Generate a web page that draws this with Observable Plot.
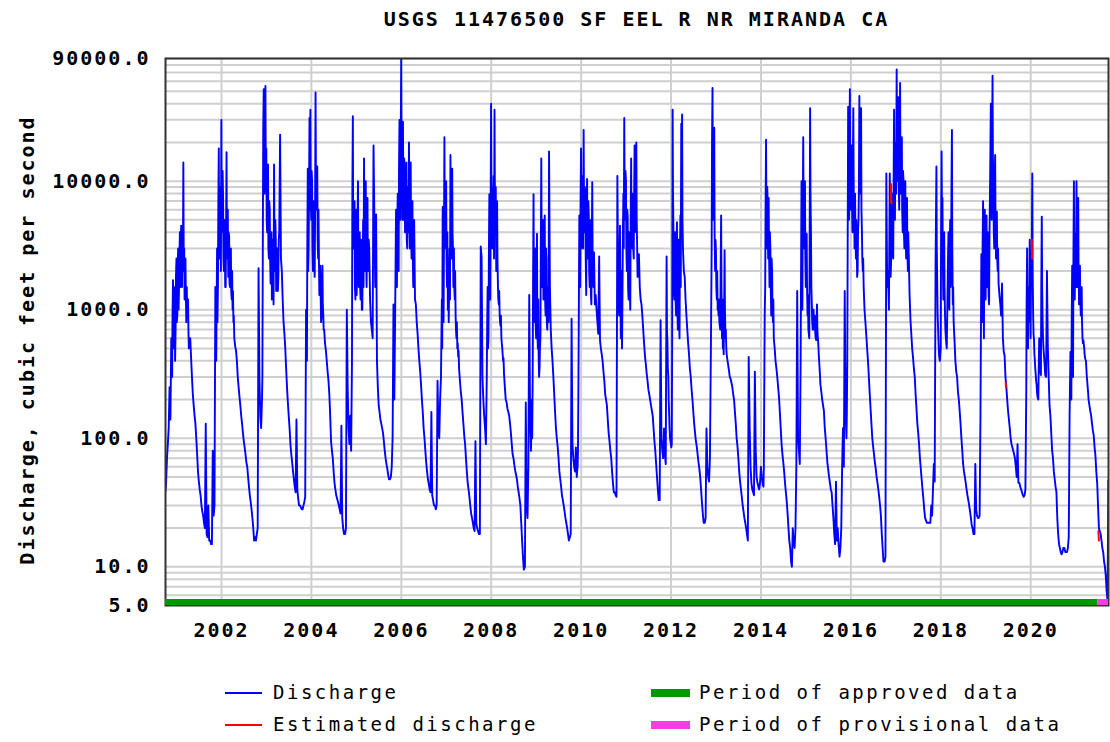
<!DOCTYPE html>
<html>
<head>
<meta charset="utf-8">
<script src="https://cdn.jsdelivr.net/npm/d3@7"></script>
<script src="https://cdn.jsdelivr.net/npm/@observablehq/plot@0.6"></script>
<style>
  body { margin: 0; background: #fff; }
  #wrap { width: 1110px; height: 742px; position: relative; overflow: hidden; font-family: "DejaVu Sans Mono", monospace; color: #000; }
  #title { position: relative; height: 40px; }
  #title span { position: absolute; left: 165px; width: 943px; top: 8px; text-align: center; font-weight: bold; font-size: 20px; line-height: 22px; letter-spacing: 2px; }
  #chart svg { display: block; }
  #chart svg text { letter-spacing: 2px; }
  #legend { position: relative; height: 87px; }
  #legend .sw { position: absolute; }
  #legend .lab { position: absolute; font-size: 19px; line-height: 20px; letter-spacing: 2.5px; white-space: pre; }
</style>
</head>
<body>
<div id="wrap">
  <div id="title"><span id="titleText"></span></div>
  <div id="chart"></div>
  <div id="legend"></div>
</div>
<script>
// ---------------- DATA ----------------
const chartTitle = "USGS 11476500 SF EEL R NR MIRANDA CA";
const yTitle = "Discharge, cubic feet per second";
const yTickValues = [5, 10, 100, 1000, 10000, 90000];
const xTickYears = [2002, 2004, 2006, 2008, 2010, 2012, 2014, 2016, 2018, 2020];
const periodStart = "2000-10-03";
const periodEnd = "2021-09-24";
const provisionalStart = "2021-06-28";
const legendItems = ["Discharge", "Estimated discharge", "Period of approved data", "Period of provisional data"];

// Weekly readings of daily discharge (cfs), each water year starting Oct 1
const wy2001 = [38,45,70,90,120, 250,140,600,300, 1700,500,1200,700,2500, 900,3000,1500,4000, 2200,3200,4000,14000, 3000,1600,1200,1500, 900,650,540,600,420, 300,220,180,150, 130,100,75,55, 46,40,36,30,27, 25,22,20,130, 18,17,30,16];
const wy2002 = [16,15,15,80,25, 30,1500,400,3000, 1500,18000,3000,6000,30000, 5000,7400,2000,5000, 1500,16800,2500,1800, 3700,1500,3000,1200, 1000,800,600,520,480, 400,300,250,210, 180,150,130,110, 95,85,75,65,60, 50,42,36,32, 28,24,20,16];
const wy2003 = [17,16,18,20,2100, 300,150,120,200, 4000,52000,8000,55000,18000, 4000,13500,2500,6000, 1600,4000,1500,3000, 13500,2000,3500,1500, 3000,1800,4000,23000,2500, 2000,1200,800,650, 500,350,250,190, 150,120,90,75,65, 55,48,42,38, 140,40,34,30];
const wy2004 = [30,29,28,28,30, 32,35,1000,400, 12500,3000,31000,36000,5000, 10000,2000,7000,1800, 49000,6000,13000,2500, 2200,1500,1200,900, 2200,900,700,550,480, 400,330,280,220, 150,95,80,70, 55,45,40,36,34, 32,30,28,26, 125,24,20,18];
const wy2005 = [18,20,1000,250,120, 90,150,80,400, 32000,3000,7000,1200,6000, 2000,10000,1500,4000, 1200,3000,1000,5000, 15000,2000,10000,1500, 7400,2000,3000,1200,800, 700,600,19000,5000, 1500,5500,400,250, 180,160,140,130,120, 110,95,80,70, 63,58,52,48];
const wy2006 = [48,50,60,100,1100, 200,1000,6000,1500, 8000,2000,30000,5000,90000, 10000,29000,5000,12000, 4000,14000,3000,8000, 20000,3000,14000,2500, 7000,1500,5000,1200,1100, 800,650,500,400, 330,260,200,160, 120,100,80,65,55, 48,44,40,38, 160,36,33,30];
const wy2007 = [30,28,30,280,120, 100,200,300,1200, 6300,800,22000,3000,10000, 1500,1000,800,3000, 16000,2500,12500,2800, 3000,1200,900,600, 500,430,350,280,230, 200,160,130,105, 90,70,55,45, 40,35,30,26,24, 22,20,19,95, 22,20,19,18];
const wy2008 = [18,3100,2600,300,200, 150,120,90,300, 1500,600,7900,1200,40000, 8000,3000,11000,36000, 5000,2000,7000,1500, 1100,900,750,600, 500,400,320,250,200, 190,170,160,150, 130,110,90,75, 70,62,56,52,48, 42,38,34,30, 22,16,12,9.5];
const wy2009 = [10,190,30,24,60, 1300,150,80,200, 300,7900,800,3000,600, 3900,500,400,350, 600,15000,1500,5000, 2000,5400,900,2500, 700,1200,17000,1500,700, 500,400,300,220, 160,120,100,86, 70,55,48,42,36, 33,30,27,24, 22,20,18,16];
const wy2010 = [17,18,850,90,70, 60,55,85,50, 60,300,5400,1500,18000, 3000,11000,25000,4000, 8000,1300,10400,2500, 5400,1500,4000,1100, 9800,2000,2800,1100,1300, 1000,800,650,2600, 580,500,450,400, 330,280,220,200,180, 140,110,95,80, 70,55,45,38];
const wy2011 = [38,36,35,11000,1500, 900,4500,600,2000, 1500,8000,31000,5000,10000, 2000,5400,1200,3000, 1000,15000,3000,8000, 2500,19000,6000,20000, 3000,2000,2700,1500,1200, 1100,900,700,550, 440,380,320,280, 240,220,200,180,165, 150,120,95,80, 63,50,40,33];
const wy2012 = [33,830,100,80,70, 119,75,63,2600, 550,300,150,100,90, 90,36000,3900,1200, 4000,900,4800,700, 3500,600,5400,28000, 33000,3000,2000,1800,1200, 900,700,550,450, 350,300,240,200, 160,130,110,95,86, 75,65,58,50, 40,32,26,22];
const wy2013 = [22,24,119,60,50, 46,70,400,2900, 53000,5000,26000,2000,2900, 1200,1000,900,800, 700,5400,600,500, 450,2900,600,500, 420,380,340,300,290, 270,250,220,200, 160,130,100,86, 70,55,46,40,35, 30,27,24,22, 20,18,16,430];
const wy2014 = [120,60,45,40,38, 36,330,80,50, 45,42,40,45,60, 50,45,42,300, 1500,21000,3000,6000, 7400,1500,3000,900, 2000,800,600,500,400, 350,300,250,210, 160,120,90,75, 65,55,45,38,32, 26,20,16,14, 11,10,20,15];
const wy2015 = [14,20,60,1400,100, 80,63,420,10000, 1000,22000,3000,10000,1500, 3900,900,700,600, 37000,3900,1100,700, 1000,800,650,580, 1100,600,450,350,260, 230,200,180,163, 120,100,80,65, 57,50,45,40,38, 30,24,18,15, 46,16,20,15];
const wy2016 = [12,14,20,60,120, 60,1400,160,100, 400,38000,5000,52000,6000, 19000,4000,37000,5000, 8000,2500,3000,2000, 5000,46000,8000,37000, 4000,2000,1500,1000,800, 640,500,400,300, 224,170,130,100, 86,75,65,58,50, 45,40,35,30, 25,18,14,11];
const wy2017 = [11,12,11500,1500,2000, 1000,11500,1800,3000, 8000,2500,36000,5000,20000, 74000,10000,45000,6000, 58000,8000,22000,4000, 10000,3000,10000,2500, 7400,2000,2800,1300,840, 650,500,424,350, 300,220,170,130, 110,90,70,58,48, 40,34,28,24, 23,22,22,22];
const wy2018 = [22,22,30,25,40, 63,46,2200,13000, 1500,700,450,400,500, 17000,7400,1200,4000, 900,600,500,1500, 4000,1000,5000,2000, 25000,1100,800,580,400, 330,300,230,200, 163,130,100,80, 63,55,50,45,40, 36,33,30,27, 24,21,20,18];
const wy2019 = [18,63,28,25,24, 24,25,155,2700, 800,7000,600,6000,1200, 5400,1500,3000,1100, 8000,40000,5000,66000, 10000,3000,16000,2500, 5800,2000,1600,1300,1100, 900,1600,600,470, 440,300,250,200, 163,140,120,100,90, 85,80,75,70, 60,50,90,45];
const wy2020 = [45,42,40,38,36, 35,36,40,230, 3000,500,1500,3500,600, 2500,11500,900,580, 400,310,260,210, 200,600,400,310, 5300,800,500,400,310, 300,2000,520,300, 180,150,110,80, 70,55,48,42,38, 24,18,15,14, 13,12.5,13,14];
const wy2021 = [14,13,13,13,14, 17,150,470,200, 2200,300,10000,1200,3900, 10000,1500,7400,1100, 2200,900,1500,600, 580,500,420,400, 300,250,200,180,163, 150,130,115,105, 85,73,55,45, 30,20,19,18,16, 14,13,11,10, 8.5,6.5,5.5,47];

// Mid-week readings during the wet season (between weeks 8..27 of each water year)
const mid2001 = [900,600,1500,400,1800,800,2200,1000,2500,1500,4500,1500,2000,2500,1200,2500,800,900,1200,500];
const mid2002 = [800,6000,2500,9000,2000,4000,12000,2500,4500,1500,4000,3000,6000,4000,1600,2800,1400,2000,1400,900];
const mid2003 = [300,25000,10000,30000,9000,5000,9000,3000,7000,2500,3500,1200,3500,1100,4000,5000,1400,3000,1400,3500];
const mid2004 = [3000,2000,8000,6000,8000,12000,3000,6000,2500,5000,12000,9000,3500,6000,1300,2200,800,1400,1100,700];
const mid2005 = [8000,4000,6000,1500,4000,1300,5000,2000,3500,1500,3500,1000,2500,1500,3000,6000,2500,4000,2000,3500];
const mid2006 = [5000,3000,12000,6000,20000,15000,5000,8000,15000,4000,9000,3500,9000,4000,5000,9000,4000,6000,2500,4000];
const mid2007 = [500,1500,3000,5000,7000,2500,4000,2000,1500,1200,5000,6000,4000,1500,1500,2000,700,800,550,480];
const mid2008 = [700,500,2500,1500,5000,9000,3000,7000,2500,8000,9000,6000,2500,1200,1400,800,900,550,450,420];
const mid2009 = [100,1500,1500,2500,800,1500,700,1200,300,500,3000,3000,3500,1200,3500,1200,3000,800,1500,800];
const mid2010 = [55,80,1000,2000,7000,4000,9000,3000,6000,9000,2500,5000,3000,7000,2000,5000,1300,3000,2500,1500];
const mid2011 = [500,4000,3000,9000,12000,3000,6000,1500,4000,1500,4500,4000,6000,3000,7000,4000,9000,5000,1800,2700];
const mid2012 = [700,350,200,120,95,85,500,8000,1500,3000,1200,2500,1200,2500,900,2500,1500,5000,5000,2500];
const mid2013 = [20000,8000,15000,4000,3500,1500,2000,1100,1200,750,2000,1500,1200,550,900,1000,700,450,400,360];
const mid2014 = [48,44,41,42,50,55,48,43,60,900,6000,5000,9000,2500,3000,4000,1500,2500,1000,1200];
const mid2015 = [2000,5000,6000,7000,2500,2500,1500,1300,650,3000,8000,1500,800,1000,700,900,600,800,700,550];
const mid2016 = [150,3000,9000,15000,10000,8000,7000,12000,9000,3000,4000,5000,1800,4000,8000,10000,15000,6000,2500,2500];
const mid2017 = [6000,3000,9000,10000,15000,8000,20000,20000,9000,15000,12000,20000,6000,12000,4000,8000,4000,6000,3000,4000];
const mid2018 = [3000,900,550,420,450,4000,6000,2500,3000,1500,700,550,800,2500,1800,3000,1500,8000,3000,1500];
const mid2019 = [1200,3000,2000,3500,2000,3000,2000,4000,1300,3500,15000,10000,20000,15000,4000,8000,5000,4000,2500,3000];
const mid2020 = [1200,900,1200,800,1500,1500,3000,2000,650,450,350,280,230,205,350,450,330,1500,1500,600];
const mid2021 = [800,600,2500,2500,2500,1500,3000,4000,2000,1500,1200,1300,800,550,540,450,410,350,280,230];

// Estimated-discharge pieces (dates, values)
const estDates = [["2016-11-22","2016-11-23","2016-11-29"], ["2019-06-12","2019-06-15"], ["2020-01-10","2020-01-12"], ["2021-07-04","2021-07-08"]];
const estValues = [[9500,6800,6800], [270,250], [3500,2500], [19,16]];

// ---------------- BUILD ----------------
const waterYears = [
  [2001,wy2001,mid2001],[2002,wy2002,mid2002],[2003,wy2003,mid2003],[2004,wy2004,mid2004],[2005,wy2005,mid2005],
  [2006,wy2006,mid2006],[2007,wy2007,mid2007],[2008,wy2008,mid2008],[2009,wy2009,mid2009],[2010,wy2010,mid2010],
  [2011,wy2011,mid2011],[2012,wy2012,mid2012],[2013,wy2013,mid2013],[2014,wy2014,mid2014],[2015,wy2015,mid2015],
  [2016,wy2016,mid2016],[2017,wy2017,mid2017],[2018,wy2018,mid2018],[2019,wy2019,mid2019],[2020,wy2020,mid2020],
  [2021,wy2021,mid2021]];
const series = [];
for (const [wy, vals, mids] of waterYears) {
  vals.forEach((v, i) => series.push({date: new Date(Date.UTC(wy - 1, 9, 1 + 7 * i)), value: v}));
  mids.forEach((v, j) => series.push({date: new Date(Date.UTC(wy - 1, 9, 1 + 7 * (8 + j) + 3)), value: v}));
}
series.sort((a, b) => a.date - b.date);
const estimated = [];
estDates.forEach((ds, k) => ds.forEach((d, i) => estimated.push({seg: k, date: new Date(d + "T00:00:00Z"), value: estValues[k][i]})));

const d0 = new Date(periodStart + "T00:00:00Z");
const d1 = new Date(periodEnd + "T00:00:00Z");
const dp = new Date(provisionalStart + "T00:00:00Z");
const yearTicks = xTickYears.map(y => new Date(Date.UTC(y, 0, 1)));
const gridValues = [];
for (let e = 0; e <= 4; e++) for (let m = 1; m <= 9; m++) { const v = m * 10 ** e; if (v > 5 && v <= 90000) gridValues.push(v); }
const periods = [{x1: d0, x2: dp, y: 5, kind: "approved"}, {x1: dp, x2: d1, y: 5, kind: "provisional"}];

document.getElementById("titleText").textContent = chartTitle;

const chart = Plot.plot({
  width: 1110, height: 615,
  marginTop: 18, marginBottom: 50, marginLeft: 165, marginRight: 2,
  style: {fontFamily: '"DejaVu Sans Mono", monospace', fontSize: "20px", fontWeight: "bold", color: "#000", background: "#fff", overflow: "visible"},
  x: {type: "utc", domain: [d0, d1]},
  y: {type: "log", domain: [5, 90000], nice: false, axis: null},
  marks: [
    Plot.ruleY(gridValues, {stroke: "#cfcfcf", strokeWidth: 2}),
    Plot.ruleX(yearTicks, {stroke: "#cfcfcf", strokeWidth: 2}),
    Plot.line(series, {x: "date", y: "value", stroke: "#0000ff", strokeWidth: 1.9, clip: true}),
    Plot.line(estimated, {x: "date", y: "value", z: "seg", stroke: "#ff0000", strokeWidth: 2, clip: true}),
    Plot.frame({stroke: "#333", strokeWidth: 2}),
    Plot.ruleY(periods, {x1: "x1", x2: "x2", y: "y", stroke: d => d.kind === "approved" ? "#009a00" : "#f040e0", strokeWidth: 6, dy: -3.5}),
    Plot.text(yTickValues, {frameAnchor: "left", y: d => d, text: d => d.toFixed(1), textAnchor: "end", lineAnchor: "middle", dx: -15, fontWeight: "bold", fontSize: 20}),
    Plot.axisX({ticks: yearTicks, tickFormat: d3.utcFormat("%Y"), tickSize: 0, tickPadding: 17, label: null}),
    Plot.text([yTitle], {frameAnchor: "left", textAnchor: "middle", dx: -138, dy: 8, rotate: -90, fontWeight: "bold", fontSize: 20})
  ]
});
document.getElementById("chart").appendChild(chart);

// ---------------- LEGEND ----------------
const legend = document.getElementById("legend");
const swatches = [
  {left: 225, cy: 38, w: 37, h: 2, color: "#0000ff", label: legendItems[0], tx: 273},
  {left: 225, cy: 70, w: 37, h: 2, color: "#ff0000", label: legendItems[1], tx: 273},
  {left: 651, cy: 38, w: 39, h: 8, color: "#009a00", label: legendItems[2], tx: 699},
  {left: 651, cy: 70, w: 39, h: 8, color: "#f040e0", label: legendItems[3], tx: 699}
];
for (const s of swatches) {
  const sw = document.createElement("div");
  sw.className = "sw";
  sw.style.cssText = `left:${s.left}px;top:${s.cy - s.h / 2}px;width:${s.w}px;height:${s.h}px;background:${s.color};`;
  legend.appendChild(sw);
  const lab = document.createElement("div");
  lab.className = "lab";
  lab.style.left = s.tx + "px";
  lab.style.top = (s.cy - 11) + "px";
  lab.textContent = s.label;
  legend.appendChild(lab);
}
</script>
</body>
</html>
